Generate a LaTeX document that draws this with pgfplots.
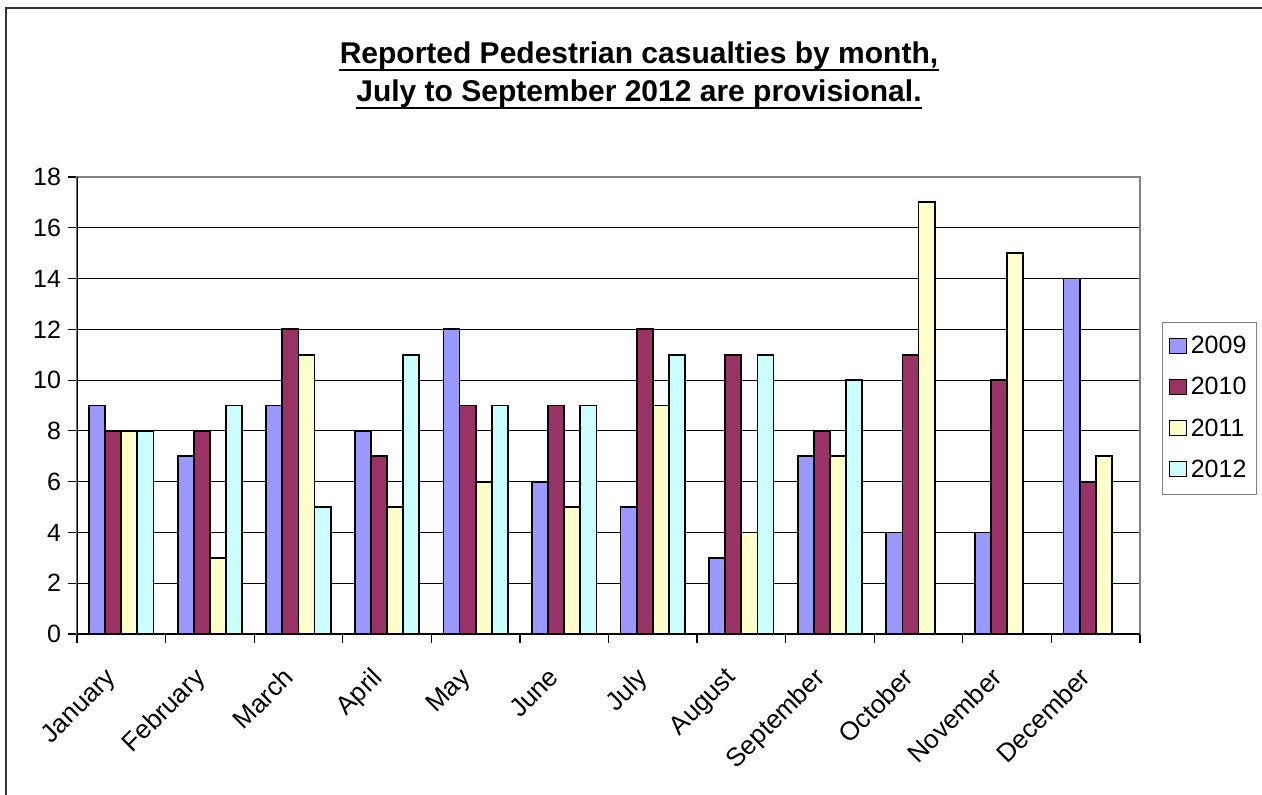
\documentclass[border=0pt]{standalone}
\usepackage{fontspec}
\setmainfont{Liberation Sans}
\usepackage{pgfplots}
\pgfplotsset{compat=1.18}
\definecolor{cA}{RGB}{153,153,255}
\definecolor{cB}{RGB}{153,51,102}
\definecolor{cC}{RGB}{255,255,204}
\definecolor{cD}{RGB}{204,255,255}
\begin{document}
\begin{tikzpicture}
\path[use as bounding box] (0pt,0pt) rectangle (631pt,397pt);
\draw[line width=1pt, black!80] (3pt,-1pt) -- (3pt,393pt) -- (632pt,393pt);
\node[inner sep=0pt, anchor=base, font=\fontsize{15}{18}\selectfont\bfseries] (t1) at (319.5pt,365pt) {Reported Pedestrian casualties by month,};
\node[inner sep=0pt, anchor=base, font=\fontsize{15}{18}\selectfont\bfseries] (t2) at (319.5pt,346pt) {July to September 2012 are provisional.};
\draw[line width=1.3pt] ([yshift=-3pt]t1.base west) -- ([yshift=-3pt]t1.base east);
\draw[line width=1.3pt] ([yshift=-3pt]t2.base west) -- ([yshift=-3pt]t2.base east);
\begin{axis}[
  at={(38.5pt,80pt)}, anchor=south west,
  scale only axis, width=531.5pt, height=228.5pt,
  ybar=0pt, bar width=8.05pt,
  xmin=-0.5, xmax=11.5, ymin=0, ymax=18,
  ytick={0,2,...,18},
  xtick={-0.5,0.5,...,11.5},
  x tick label as interval,
  xticklabels={January,February,March,April,May,June,July,August,September,October,November,December},
  xticklabel style={rotate=45, anchor=north east, inner sep=1pt, xshift=-13pt, yshift=-1pt, font=\fontsize{13}{15}\selectfont},
  yticklabel style={font=\fontsize{12.5}{14}\selectfont},
  /pgf/number format/assume math mode=true,
  tick align=outside, major tick length=4.5pt,
  xtick pos=bottom, ytick pos=left,
  tick style={black, line width=0.6pt},
  ymajorgrids, grid style={black, line width=0.5pt},
  axis line style={gray, line width=0.8pt},
  legend style={at={(axis description cs:1.0207,0.683)}, anchor=north west,
    draw=gray, line width=0.6pt, font=\fontsize{12.5}{14}\selectfont,
    row sep=6.3pt, inner xsep=3pt, inner ysep=5pt},
  legend cell align=left,
  legend image code/.code={\draw[#1, line width=0.6pt] (0pt,-3.5pt) rectangle (8.5pt,4pt);},
  every axis plot/.append style={draw=black, line width=0.9pt},
]
\addplot[fill=cA] coordinates {(0,9)(1,7)(2,9)(3,8)(4,12)(5,6)(6,5)(7,3)(8,7)(9,4)(10,4)(11,14)};
\addplot[fill=cB] coordinates {(0,8)(1,8)(2,12)(3,7)(4,9)(5,9)(6,12)(7,11)(8,8)(9,11)(10,10)(11,6)};
\addplot[fill=cC] coordinates {(0,8)(1,3)(2,11)(3,5)(4,6)(5,5)(6,9)(7,4)(8,7)(9,17)(10,15)(11,7)};
\addplot[fill=cD] coordinates {(0,8)(1,9)(2,5)(3,11)(4,9)(5,9)(6,11)(7,11)(8,10)};
\legend{2009,2010,2011,2012}
\draw[black, line width=0.8pt] (rel axis cs:0,1) -- (rel axis cs:0,0) -- (rel axis cs:1,0);
\end{axis}
\end{tikzpicture}
\end{document}
